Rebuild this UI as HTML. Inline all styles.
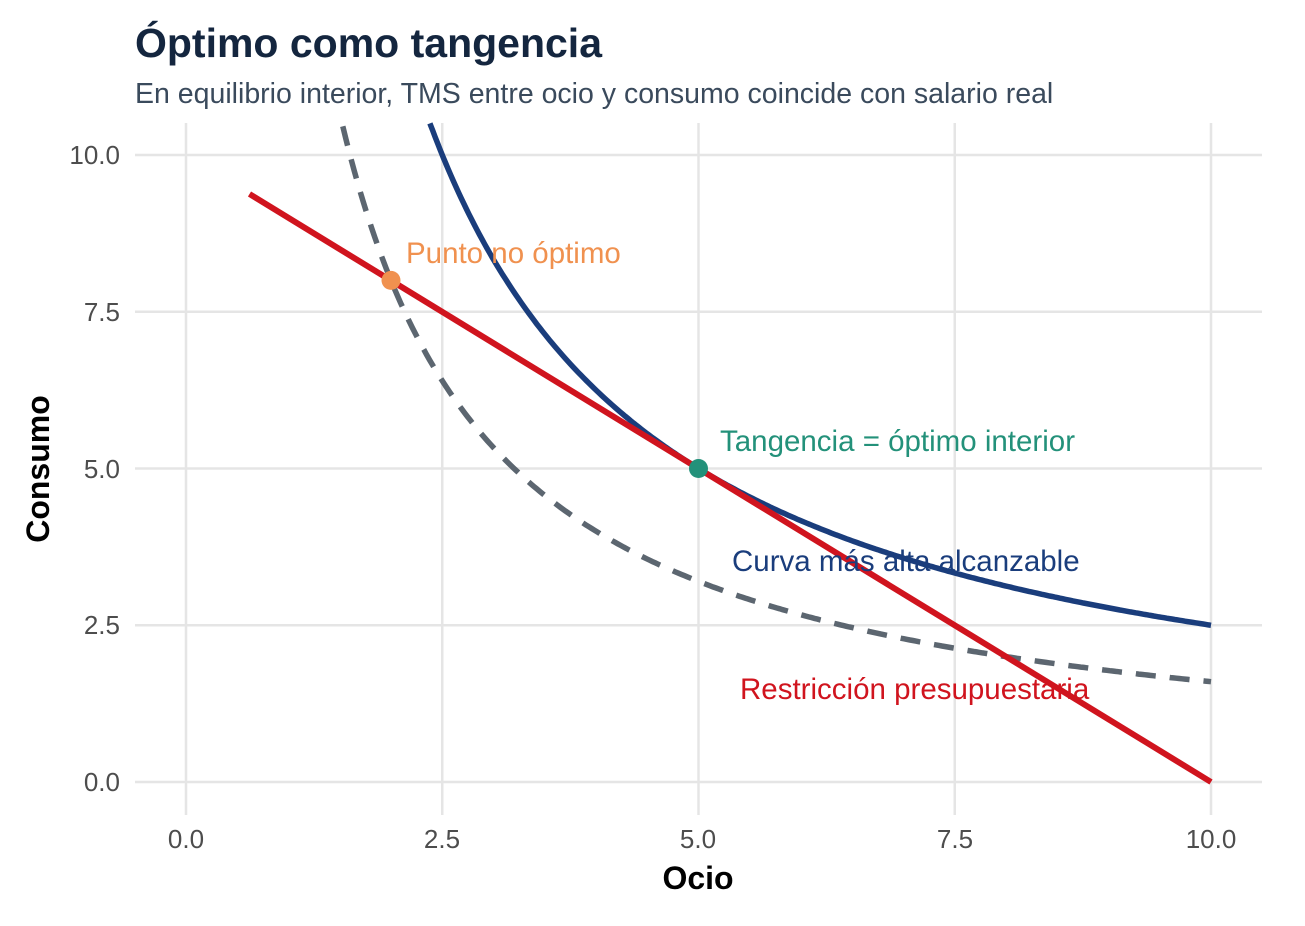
<!DOCTYPE html>
<html><head><meta charset="utf-8"><style>
html,body{margin:0;padding:0;background:#fff;}
text{font-family:"Liberation Sans",Arial,sans-serif;}
</style></head><body>
<svg id="s" width="1305" height="921" xmlns="http://www.w3.org/2000/svg">
<rect width="1305" height="921" fill="#fff"/>
<g stroke="#e5e5e5" stroke-width="2.5">
<line x1="135" x2="1262" y1="782" y2="782"/>
<line x1="135" x2="1262" y1="625.25" y2="625.25"/>
<line x1="135" x2="1262" y1="468.5" y2="468.5"/>
<line x1="135" x2="1262" y1="311.75" y2="311.75"/>
<line x1="135" x2="1262" y1="155" y2="155"/>
<line y1="123" y2="815" x1="186" x2="186"/>
<line y1="123" y2="815" x1="442.25" x2="442.25"/>
<line y1="123" y2="815" x1="698.5" x2="698.5"/>
<line y1="123" y2="815" x1="954.75" x2="954.75"/>
<line y1="123" y2="815" x1="1211" x2="1211"/>
</g>
<g font-size="26" fill="#4d4d4d" text-anchor="end">
<text x="120" y="791">0.0</text>
<text x="120" y="634">2.5</text>
<text x="120" y="478">5.0</text>
<text x="120" y="321">7.5</text>
<text x="120" y="164">10.0</text>
</g>
<g font-size="26" fill="#4d4d4d" text-anchor="middle">
<text x="186" y="848">0.0</text>
<text x="442" y="848">2.5</text>
<text x="698" y="848">5.0</text>
<text x="955" y="848">7.5</text>
<text x="1211" y="848">10.0</text>
</g>
<text x="698" y="889" font-size="32" font-weight="bold" text-anchor="middle">Ocio</text>
<text transform="translate(49,469) rotate(-90)" font-size="32" font-weight="bold" text-anchor="middle">Consumo</text>
<text x="135" y="57" font-size="41" font-weight="bold" fill="#14263f">Óptimo como tangencia</text>
<text x="135" y="103" font-size="28.5" fill="#3a4a5c">En equilibrio interior, TMS entre ocio y consumo coincide con salario real</text>
<path id="dash" fill="none" stroke="#5c6670" stroke-width="5.5" stroke-dasharray="20,14"/>
<path id="blue" fill="none" stroke="#1a3d7c" stroke-width="5.5"/>
<line x1="249.5" y1="194" x2="1211" y2="782" stroke="#d0141e" stroke-width="6"/>
<circle cx="391" cy="280.4" r="9.5" fill="#f0914f"/>
<circle cx="698.5" cy="468.5" r="9.5" fill="#23917a"/>
<text x="406" y="263" font-size="29.5" fill="#f0914f">Punto no óptimo</text>
<text x="720" y="451" font-size="29.5" fill="#23917a">Tangencia = óptimo interior</text>
<text x="732" y="571" font-size="29.5" fill="#1a3d7c">Curva más alta alcanzable</text>
<text x="740" y="699" font-size="29.5" fill="#d0141e">Restricción presupuestaria</text>
</svg>
<script>
function px(x){return 186+x*102.5} function py(y){return 782-y*62.7}
function curve(k,x0){var d="";for(var i=0;i<=300;i++){var x=x0+(10-x0)*i/300;d+=(i?"L":"M")+px(x).toFixed(1)+","+py(k/x).toFixed(1);}return d;}
document.getElementById("blue").setAttribute("d",curve(25,2.38));
document.getElementById("dash").setAttribute("d",curve(16,1.53));
</script>
</body></html>
